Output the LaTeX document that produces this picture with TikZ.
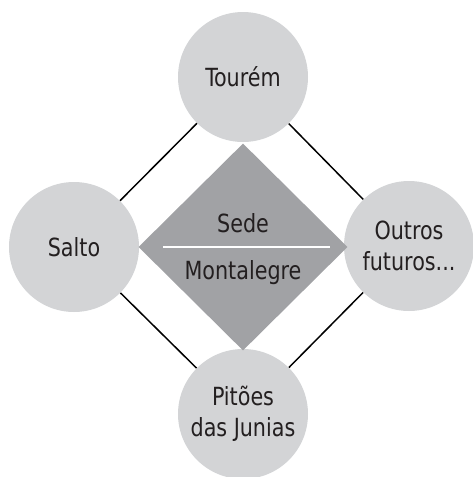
\documentclass[tikz,border=0pt]{standalone}
\usepackage{fontspec}
\setmainfont[FakeStretch=0.92]{DejaVu Sans Condensed}
\usepackage{tikz}
\usetikzlibrary{shapes.geometric, positioning, calc, backgrounds}
\definecolor{circgray}{HTML}{D3D4D6}
\definecolor{hubgray}{HTML}{A1A2A5}
\definecolor{inkdark}{HTML}{231F20}

\begin{document}
\begin{tikzpicture}[
    x=1pt, y=-1pt,
    site/.style={circle, fill=circgray, minimum size=130pt, inner sep=0pt,
                 align=center, text=inkdark, font=\fontsize{25}{31}\selectfont},
    hub/.style={diamond, fill=hubgray, aspect=1, minimum width=209pt,
                minimum height=207pt, inner sep=0pt},
    label/.style={text=inkdark, font=\fontsize{25}{31}\selectfont},
    link/.style={draw=black, line width=1.5pt},
  ]
  \useasboundingbox (0,0) rectangle (473,477);

  % Sites
  \node[site] (tourem) at (243,77) {Tourém};
  \node[site] (salto) at (74,247) {Salto};
  \node[site] (outros) at (409,246) {Outros\\futuros...};
  \node[site] (pitoes) at (243,414) {Pitões\\das Junias};

  % Links behind the sites
  \begin{scope}[on background layer]
    \draw[link] (tourem) -- (salto);
    \draw[link] (tourem) -- (outros);
    \draw[link] (salto) -- (pitoes);
    \draw[link] (outros) -- (pitoes);
  \end{scope}

  % Central seat
  \node[hub] (sede) at (243,247) {};
  \draw[white, line width=1.6pt] ([xshift=25pt]sede.west) -- ([xshift=-18pt]sede.east);
  \node[label] (sedetop) at (243,223) {Sede};
  \node[label] (sedebot) at (243,273) {Montalegre};
\end{tikzpicture}
\end{document}
